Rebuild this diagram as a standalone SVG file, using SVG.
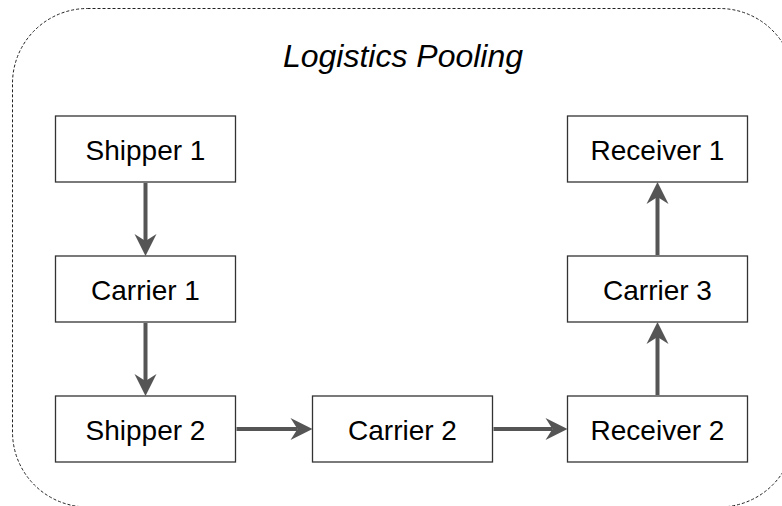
<svg xmlns="http://www.w3.org/2000/svg" width="782" height="506" viewBox="0 0 782 506">
<style>
.box{fill:#fff;stroke:#333;stroke-width:1.3}
.lbl{font-family:"Liberation Sans",Arial,sans-serif;font-size:28px;fill:#000;text-anchor:middle}
.title{font-family:"Liberation Sans",Arial,sans-serif;font-size:32px;font-style:italic;fill:#000;text-anchor:middle}
.conn{stroke:#555;stroke-width:4;fill:none}
</style>
<defs>
<marker id="ah" markerUnits="userSpaceOnUse" markerWidth="26" markerHeight="26" viewBox="-24 -13 26 26" refX="-15" refY="0" orient="auto">
<path d="M0,0 L-22,-11 L-15,0 L-22,11 Z" fill="#555"/>
</marker>
</defs>
<rect x="12.5" y="8.5" width="782" height="498.5" rx="75" ry="75" fill="none" stroke="#222" stroke-width="1" stroke-dasharray="3 2"/>
<text class="title" x="403" y="67">Logistics Pooling</text>
<g id="shipper1"><rect class="box" x="55.5" y="116" width="180" height="66"/><text class="lbl" x="145.5" y="160">Shipper 1</text></g>
<g id="carrier1"><rect class="box" x="55.5" y="256" width="180" height="66"/><text class="lbl" x="145.5" y="300">Carrier 1</text></g>
<g id="shipper2"><rect class="box" x="55.5" y="396" width="180" height="66"/><text class="lbl" x="145.5" y="440">Shipper 2</text></g>
<g id="carrier2"><rect class="box" x="312.5" y="396" width="180" height="66"/><text class="lbl" x="402.5" y="440">Carrier 2</text></g>
<g id="receiver2"><rect class="box" x="567.5" y="396" width="180" height="66"/><text class="lbl" x="657.5" y="440">Receiver 2</text></g>
<g id="carrier3"><rect class="box" x="567.5" y="256" width="180" height="66"/><text class="lbl" x="657.5" y="300">Carrier 3</text></g>
<g id="receiver1"><rect class="box" x="567.5" y="116" width="180" height="66"/><text class="lbl" x="657.5" y="160">Receiver 1</text></g>
<g id="connectors">
<line class="conn" x1="145.5" y1="183" x2="145.5" y2="241" marker-end="url(#ah)"/>
<line class="conn" x1="145.5" y1="323" x2="145.5" y2="381" marker-end="url(#ah)"/>
<line class="conn" x1="236.5" y1="429" x2="297.5" y2="429" marker-end="url(#ah)"/>
<line class="conn" x1="493.5" y1="429" x2="552.5" y2="429" marker-end="url(#ah)"/>
<line class="conn" x1="657.5" y1="395" x2="657.5" y2="337" marker-end="url(#ah)"/>
<line class="conn" x1="657.5" y1="255" x2="657.5" y2="197" marker-end="url(#ah)"/>
</g>
</svg>
